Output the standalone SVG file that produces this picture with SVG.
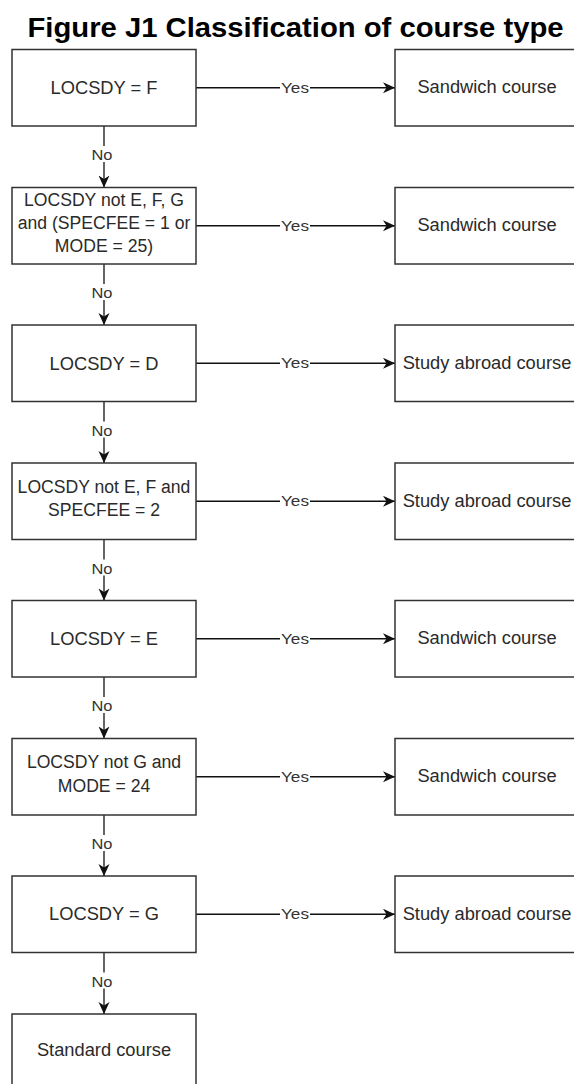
<svg xmlns="http://www.w3.org/2000/svg" width="574" height="1084" viewBox="0 0 574 1084">
<defs>
<marker id="arr" markerUnits="userSpaceOnUse" markerWidth="13" markerHeight="12" refX="12" refY="5.5" orient="auto" viewBox="0 0 13 12"><path d="M0,0 L12,5.5 L0,11 L3.5,5.5 Z" fill="#111"/></marker>
</defs>
<style>
.box{fill:#fff;stroke:#333;stroke-width:1.5}
.t{font-family:"Liberation Sans",Arial,sans-serif;font-size:18.3px;fill:#2a2a2a;text-anchor:middle}
.m{font-size:17.6px}
.lbl{font-family:"Liberation Sans",Arial,sans-serif;font-size:14.5px;fill:#333;text-anchor:middle}
.ln{stroke:#111;stroke-width:1.3;fill:none}
.bg{fill:#fff}
.title{font-family:"Liberation Sans",Arial,sans-serif;font-size:27px;font-weight:bold;fill:#000;text-anchor:middle}
</style>
<rect width="574" height="1084" fill="#fff"/>
<text class="title" x="295.5" y="37" textLength="536" lengthAdjust="spacingAndGlyphs">Figure J1 Classification of course type</text>

<g id="connectors">
  <line class="ln" x1="196" y1="87.75" x2="395" y2="87.75" marker-end="url(#arr)"/>
  <line class="ln" x1="196" y1="225.75" x2="395" y2="225.75" marker-end="url(#arr)"/>
  <line class="ln" x1="196" y1="363.25" x2="395" y2="363.25" marker-end="url(#arr)"/>
  <line class="ln" x1="196" y1="501.25" x2="395" y2="501.25" marker-end="url(#arr)"/>
  <line class="ln" x1="196" y1="638.75" x2="395" y2="638.75" marker-end="url(#arr)"/>
  <line class="ln" x1="196" y1="776.75" x2="395" y2="776.75" marker-end="url(#arr)"/>
  <line class="ln" x1="196" y1="914.25" x2="395" y2="914.25" marker-end="url(#arr)"/>
  <line class="ln" x1="104" y1="126" x2="104" y2="187.5" marker-end="url(#arr)"/>
  <line class="ln" x1="104" y1="264" x2="104" y2="325" marker-end="url(#arr)"/>
  <line class="ln" x1="104" y1="401.5" x2="104" y2="463" marker-end="url(#arr)"/>
  <line class="ln" x1="104" y1="539.5" x2="104" y2="600.5" marker-end="url(#arr)"/>
  <line class="ln" x1="104" y1="677" x2="104" y2="738.5" marker-end="url(#arr)"/>
  <line class="ln" x1="104" y1="815" x2="104" y2="876" marker-end="url(#arr)"/>
  <line class="ln" x1="104" y1="952.5" x2="104" y2="1014" marker-end="url(#arr)"/>
  <g id="yes-labels">
    <rect class="bg" x="280" y="79" width="30" height="15"/>
    <text class="lbl" x="295" y="92.75" textLength="28" lengthAdjust="spacingAndGlyphs">Yes</text>
    <rect class="bg" x="280" y="217" width="30" height="15"/>
    <text class="lbl" x="295" y="230.75" textLength="28" lengthAdjust="spacingAndGlyphs">Yes</text>
    <rect class="bg" x="280" y="354.5" width="30" height="15"/>
    <text class="lbl" x="295" y="368.25" textLength="28" lengthAdjust="spacingAndGlyphs">Yes</text>
    <rect class="bg" x="280" y="492.5" width="30" height="15"/>
    <text class="lbl" x="295" y="506.25" textLength="28" lengthAdjust="spacingAndGlyphs">Yes</text>
    <rect class="bg" x="280" y="630" width="30" height="15"/>
    <text class="lbl" x="295" y="643.75" textLength="28" lengthAdjust="spacingAndGlyphs">Yes</text>
    <rect class="bg" x="280" y="768" width="30" height="15"/>
    <text class="lbl" x="295" y="781.75" textLength="28" lengthAdjust="spacingAndGlyphs">Yes</text>
    <rect class="bg" x="280" y="905.5" width="30" height="15"/>
    <text class="lbl" x="295" y="919.25" textLength="28" lengthAdjust="spacingAndGlyphs">Yes</text>
  </g>
  <g id="no-labels">
    <rect class="bg" x="91" y="146" width="22" height="16"/>
    <text class="lbl" x="102" y="160" textLength="21" lengthAdjust="spacingAndGlyphs">No</text>
    <rect class="bg" x="91" y="284" width="22" height="16"/>
    <text class="lbl" x="102" y="298" textLength="21" lengthAdjust="spacingAndGlyphs">No</text>
    <rect class="bg" x="91" y="421.5" width="22" height="16"/>
    <text class="lbl" x="102" y="435.5" textLength="21" lengthAdjust="spacingAndGlyphs">No</text>
    <rect class="bg" x="91" y="559.5" width="22" height="16"/>
    <text class="lbl" x="102" y="573.5" textLength="21" lengthAdjust="spacingAndGlyphs">No</text>
    <rect class="bg" x="91" y="697" width="22" height="16"/>
    <text class="lbl" x="102" y="711" textLength="21" lengthAdjust="spacingAndGlyphs">No</text>
    <rect class="bg" x="91" y="835" width="22" height="16"/>
    <text class="lbl" x="102" y="849" textLength="21" lengthAdjust="spacingAndGlyphs">No</text>
    <rect class="bg" x="91" y="972.5" width="22" height="16"/>
    <text class="lbl" x="102" y="986.5" textLength="21" lengthAdjust="spacingAndGlyphs">No</text>
  </g>
</g>

<g id="q1"><rect class="box" x="12" y="49.5" width="184" height="76.5"/><text class="t" x="104" y="93.5">LOCSDY = F</text></g>
<g id="q2"><rect class="box" x="12" y="187.5" width="184" height="76.5"/>
  <text class="t m" x="104" y="206">LOCSDY not E, F, G</text>
  <text class="t m" x="104" y="229.3">and (SPECFEE = 1 or</text>
  <text class="t m" x="104" y="251.7">MODE = 25)</text></g>
<g id="q3"><rect class="box" x="12" y="325" width="184" height="76.5"/><text class="t" x="104" y="369.5">LOCSDY = D</text></g>
<g id="q4"><rect class="box" x="12" y="463" width="184" height="76.5"/>
  <text class="t m" x="104" y="493.3">LOCSDY not E, F and</text>
  <text class="t m" x="104" y="516">SPECFEE = 2</text></g>
<g id="q5"><rect class="box" x="12" y="600.5" width="184" height="76.5"/><text class="t" x="104" y="644.75">LOCSDY = E</text></g>
<g id="q6"><rect class="box" x="12" y="738.5" width="184" height="76.5"/>
  <text class="t m" x="104" y="768.3">LOCSDY not G and</text>
  <text class="t m" x="104" y="791.7">MODE = 24</text></g>
<g id="q7"><rect class="box" x="12" y="876" width="184" height="76.5"/><text class="t" x="104" y="920.25">LOCSDY = G</text></g>
<g id="standard"><rect class="box" x="12" y="1014" width="184" height="76.5"/><text class="t" x="104" y="1056">Standard course</text></g>

<g id="r1"><rect class="box" x="395" y="49.5" width="184" height="76.5"/><text class="t" x="487" y="92.5">Sandwich course</text></g>
<g id="r2"><rect class="box" x="395" y="187.5" width="184" height="76.5"/><text class="t" x="487" y="230.5">Sandwich course</text></g>
<g id="r3"><rect class="box" x="395" y="325" width="184" height="76.5"/><text class="t" x="487" y="369">Study abroad course</text></g>
<g id="r4"><rect class="box" x="395" y="463" width="184" height="76.5"/><text class="t" x="487" y="507">Study abroad course</text></g>
<g id="r5"><rect class="box" x="395" y="600.5" width="184" height="76.5"/><text class="t" x="487" y="643.5">Sandwich course</text></g>
<g id="r6"><rect class="box" x="395" y="738.5" width="184" height="76.5"/><text class="t" x="487" y="781.5">Sandwich course</text></g>
<g id="r7"><rect class="box" x="395" y="876" width="184" height="76.5"/><text class="t" x="487" y="920">Study abroad course</text></g>
</svg>
